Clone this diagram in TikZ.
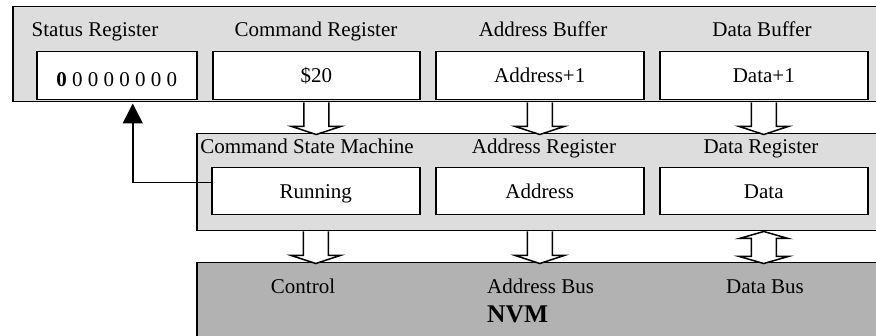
\documentclass[tikz,border=0pt]{standalone}
\usepackage{fontspec}
\setmainfont{Liberation Serif}
\usetikzlibrary{arrows.meta,calc}
\definecolor{panelgray}{RGB}{221,221,221}
\definecolor{nvmgray}{RGB}{178,178,178}
\begin{document}
\begin{tikzpicture}[x=1pt,y=-1pt,
  panel/.style={draw=black,line width=1.5pt,fill=panelgray,anchor=north west,inner sep=0pt},
  nvmpanel/.style={panel,fill=nvmgray},
  regbox/.style={draw=black,line width=1.5pt,fill=white,anchor=north west,inner sep=0pt,
     font=\fontsize{21}{25}\selectfont,text height=13.9pt,text depth=0pt},
  lbl/.style={font=\fontsize{21}{25}\selectfont,inner sep=0pt,anchor=base},
  hollow/.style={draw=black,line width=1.5pt,fill=white,line join=miter},
  pics/downarrow/.style={code={
    \draw[hollow] (-12.5,0) -- (-12.5,24) -- (-24.5,24) -- (0,32) -- (24.5,24) -- (12.5,24) -- (12.5,0);}},
  pics/botharrow/.style={code={
    \draw[hollow] (-12.5,7) -- (-24.5,7) -- (0,0) -- (24.5,7) -- (12.5,7) -- (12.5,25)
      -- (24.5,25) -- (0,32) -- (-24.5,25) -- (-12.5,25) -- cycle;}}]
\useasboundingbox (0,0) rectangle (876,336);
% panels
\node[panel,minimum width=868pt,minimum height=95pt] (top) at (12,6) {};
\node[panel,minimum width=684pt,minimum height=97pt] (mid) at (196,133) {};
\node[nvmpanel,minimum width=684pt,minimum height=90pt] (nvm) at (196,262) {};
% top registers
\node[regbox,minimum width=160pt,minimum height=48pt,text height=22pt] (status) at (36,51) {\textbf{0} 0 0 0 0 0 0 0};
\node[regbox,minimum width=207pt,minimum height=48pt] (cmd) at (212,51) {\$20};
\node[regbox,minimum width=208pt,minimum height=48pt] (abuf) at (435,51) {Address+1};
\node[regbox,minimum width=208pt,minimum height=48pt] (dbuf) at (659,51) {Data+1};
\node[lbl] (lstatus) at (95,37) {Status Register};
\node[lbl] (lcmd) at (316,37) {Command Register};
\node[lbl] (labuf) at (543,37) {Address Buffer};
\node[lbl] (ldbuf) at (762,37) {Data Buffer};
% middle registers
\node[regbox,minimum width=208pt,minimum height=47pt] (running) at (211,167) {Running};
\node[regbox,minimum width=208pt,minimum height=47pt] (areg) at (435,167) {Address};
\node[regbox,minimum width=208pt,minimum height=47pt] (dreg) at (659,167) {Data};
\node[lbl] (lcsm) at (307,154) {Command State Machine};
\node[lbl] (lareg) at (544,154) {Address Register};
\node[lbl] (ldreg) at (761,154) {Data Register};
% NVM labels
\node[lbl] (lctrl) at (303,294) {Control};
\node[lbl,anchor=base west] (labus) at (487,294) {Address Bus};
\node[lbl] (ldbus) at (765,294) {Data Bus};
\node[lbl,anchor=base west,font=\fontsize{25.5}{30}\selectfont\bfseries] (lnvm) at (487,323) {NVM};
% hollow arrows
\pic at (cmd.south |- top.south) {downarrow};
\pic at (abuf.south |- top.south) {downarrow};
\pic at (dbuf.south |- top.south) {downarrow};
\pic at (running.south |- mid.south) {downarrow};
\pic at (areg.south |- mid.south) {downarrow};
\pic at (dreg.south |- mid.south) {botharrow};
% feedback
\coordinate (fbend) at ([xshift=16pt,yshift=-3pt]status.south);
\draw[line width=1.5pt,-{Triangle[width=20pt,length=20pt]}]
  ([yshift=8.5pt]running.west) -| (fbend);
\end{tikzpicture}
\end{document}
